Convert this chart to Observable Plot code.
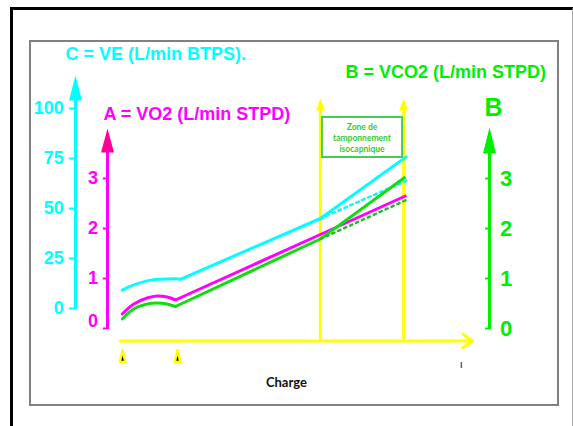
<!DOCTYPE html>
<html>
<head>
<meta charset="utf-8">
<script src="https://cdn.jsdelivr.net/npm/d3@7"></script>
<script src="https://cdn.jsdelivr.net/npm/@observablehq/plot@0.6"></script>
<style>
  html, body { margin: 0; padding: 0; background: #fff; }
  #wrap { position: relative; width: 573px; height: 426px; overflow: hidden; background: #fff; }
  #outer { position: absolute; left: 10px; top: 7px; width: 559px; height: 440px;
           border-left: 3px solid #000; border-top: 3px solid #000; border-right: 1px solid #aaa; }
  #inner { position: absolute; left: 29px; top: 40px; width: 526px; height: 362px; border: 2px solid #808080; }
  #chart { position: absolute; left: 0; top: 0; }
</style>
</head>
<body>
<div id="wrap">
  <div id="outer"></div>
  <div id="inner"></div>
  <div id="chart"></div>
</div>
<script>
// ---- Data (charge in % of the horizontal axis) ----
const vo2Charge  = [0.5, 3.8, 7.6, 10.5, 13.3, 15.7, 57.1, 81.7];
const vo2        = [0.29, 0.49, 0.61, 0.65, 0.63, 0.57, 1.88, 2.66];   // A, L/min STPD
const vco2Charge = [0.5, 3.8, 7.6, 10.5, 13.3, 15.7, 57.1, 81.4];
const vco2       = [0.19, 0.39, 0.49, 0.51, 0.49, 0.44, 1.79, 3.03];   // B, L/min STPD
const veCharge   = [0.5, 3.8, 7.6, 11.4, 15.7, 17.1, 57.1, 81.9];
const ve         = [9.2, 11.8, 13.8, 14.6, 14.9, 14.6, 45, 76.2];      // C, L/min BTPS
const vco2TendanceCharge = [57.1, 82.3];
const vco2Tendance       = [1.79, 2.59];
const veTendanceCharge   = [57.1, 82.3];
const veTendance         = [45, 64.4];
const seuils     = [57.1, 80.9];        // limits of the isocapnic buffering zone
const marqueurs  = [0.6, 16.3];         // event markers under the axis
const ticksA = [0, 1, 2, 3];
const ticksB = [0, 1, 2, 3];
const ticksC = [0, 25, 50, 75, 100];
const titreA = "A = VO2 (L/min STPD)";
const titreB = "B = VCO2 (L/min STPD)";
const titreC = "C = VE (L/min BTPS).";
const titreZone = "Zone de\ntamponnement\nisocapnique";
const titreX = "Charge";

// ---- Colours ----
const CYAN = "#00ffff", MAG = "#ff00ff", MAGHEAD = "#ff0099", GRN = "#00ee00", GRNLINE = "#11dd11", YEL = "#ffff00";

// C axis is drawn on the A scale: 0 -> 0.4, 25 per unit
const cToA = c => c / 25 + 0.4;

const pts = (xs, ys, f = v => v) => xs.map((x, i) => ({x, y: f(ys[i])}));
const vo2Pts = pts(vo2Charge, vo2);
const vco2Pts = pts(vco2Charge, vco2);
const vePts = pts(veCharge, ve, cToA);

// axis positions (in charge units, outside the [0,100] domain)
const axC = -12.86, axA = -3.71, axB = 105.43, yAxeX = -0.25;

function pointe(w, h) {
  return {draw(ctx) { ctx.moveTo(0, -h); ctx.lineTo(w / 2, 0); ctx.lineTo(-w / 2, 0); ctx.closePath(); }};
}
const fontA = "Liberation Sans, Arial, sans-serif";
const fontN = "Liberation Sans Narrow, Arial Narrow, Liberation Sans, sans-serif";

const lineCurve = (data, k, color) => [
  Plot.line(data.slice(0, k + 1), {x: "x", y: "y", stroke: color, strokeWidth: 3, curve: "catmull-rom"}),
  Plot.line(data.slice(k), {x: "x", y: "y", stroke: color, strokeWidth: 3, strokeLinecap: "butt"})
];

const chart = Plot.plot({
  width: 573, height: 426,
  marginTop: 0, marginRight: 0, marginBottom: 0, marginLeft: 0,
  x: {domain: [0, 100], range: [120, 470], axis: null},
  y: {domain: [0, 3], range: [328, 178], axis: null},
  style: {background: "transparent", overflow: "visible"},
  marks: [
    // Titles
    Plot.text([titreC], {x: -15.7, y: 5.48, text: d => d, textAnchor: "start", fill: CYAN, fontSize: 18, fontWeight: "bold", fontFamily: fontA}),
    Plot.text([titreB], {x: 64.3, y: 5.12, text: d => d, textAnchor: "start", fill: GRN, fontSize: 18, fontWeight: "bold", fontFamily: fontA}),
    Plot.text([titreA], {x: -4.86, y: 4.28, text: d => d, textAnchor: "start", fill: MAG, fontSize: 18, fontWeight: "bold", fontFamily: fontA}),

    // C axis (cyan)
    Plot.ruleX([axC], {y1: 0.38, y2: 4.56, stroke: CYAN, strokeWidth: 3}),
    Plot.ruleY(ticksC, {y: cToA, x1: -14.6, x2: axC, stroke: CYAN, strokeWidth: 2}),
    Plot.text(ticksC, {x: -16.2, y: cToA, text: d => String(d), textAnchor: "end", fill: CYAN, fontSize: 18, fontWeight: "bold", fontFamily: fontN}),
    Plot.dot([0], {x: axC, y: 4.56, symbol: pointe(13, 25), fill: CYAN}),

    // A axis (magenta)
    Plot.ruleX([axA], {y1: -0.02, y2: 3.52, stroke: MAG, strokeWidth: 3}),
    Plot.ruleY(ticksA, {y: d => d, x1: -4.9, x2: axA, stroke: MAG, strokeWidth: 2}),
    Plot.text(ticksA, {x: -6.4, y: d => d === 0 ? 0.14 : d, text: d => String(d), textAnchor: "end", fill: MAG, fontSize: 18, fontWeight: "bold", fontFamily: fontA}),
    Plot.dot([0], {x: axA, y: 3.52, symbol: pointe(13, 24), fill: MAGHEAD}),

    // B axis (green)
    Plot.ruleX([axB], {y1: -0.02, y2: 3.5, stroke: GRN, strokeWidth: 3}),
    Plot.ruleY(ticksB, {y: d => d, x1: 104.3, x2: axB, stroke: GRN, strokeWidth: 2}),
    Plot.text(ticksB, {x: 108.4, y: d => d, text: d => String(d), textAnchor: "start", fill: GRN, fontSize: 22, fontWeight: "bold", fontFamily: fontN}),
    Plot.dot([0], {x: axB, y: 3.5, symbol: pointe(13, 26), fill: GRN}),
    Plot.text(["B"], {x: 106.6, y: 4.42, text: d => d, fill: GRN, fontSize: 25, fontWeight: "bold", fontFamily: fontN}),

    // Yellow horizontal axis and thresholds
    Plot.arrow([0], {x1: 0, x2: 100.6, y1: yAxeX, y2: yAxeX, stroke: YEL, strokeWidth: 3, headLength: 6, headAngle: 70}),
    Plot.ruleX(seuils, {y1: yAxeX, y2: 4.36, stroke: YEL, strokeWidth: 3}),
    Plot.dot(seuils, {x: d => d, y: 4.36, symbol: pointe(9, 12), fill: YEL}),

    // Markers, small tick and x label
    Plot.dot(marqueurs, {x: d => d, y: -0.67, symbol: pointe(5.5, 12), fill: "#000", stroke: YEL, strokeWidth: 2.5, strokeLinejoin: "round"}),
    Plot.ruleX([97.4], {y1: -0.8, y2: -0.68, stroke: "#666", strokeWidth: 1.5}),
    Plot.text([titreX], {x: 47.4, y: -1.08, text: d => d, fill: "#111", fontSize: 13, fontWeight: "bold", fontFamily: "Lato, sans-serif"}),

    // Buffering zone box
    Plot.rect([0], {x1: seuils[0] + 0.6, x2: seuils[1] - 0.3, y1: 3.42, y2: 4.22, fill: "#fff", stroke: "#44cc55", strokeWidth: 2}),
    Plot.text([titreZone], {x: (seuils[0] + seuils[1]) / 2, y: 3.82, text: d => d, fill: "#33cc33", fontSize: 8.5, fontWeight: "bold", lineHeight: 1.25, fontFamily: "Lato, sans-serif"}),

    // Curves
    ...lineCurve(vePts, 5, CYAN),
    Plot.line(pts(veTendanceCharge, veTendance, cToA), {x: "x", y: "y", stroke: CYAN, strokeWidth: 2.5, strokeDasharray: "3,3.5"}),
    ...lineCurve(vo2Pts, 5, MAG),
    ...lineCurve(vco2Pts, 5, GRNLINE),
    Plot.line(pts(vco2TendanceCharge, vco2Tendance), {x: "x", y: "y", stroke: "#22bb33", strokeWidth: 2.5, strokeDasharray: "2.5,4"})
  ]
});
document.getElementById("chart").appendChild(chart);
</script>
</body>
</html>
